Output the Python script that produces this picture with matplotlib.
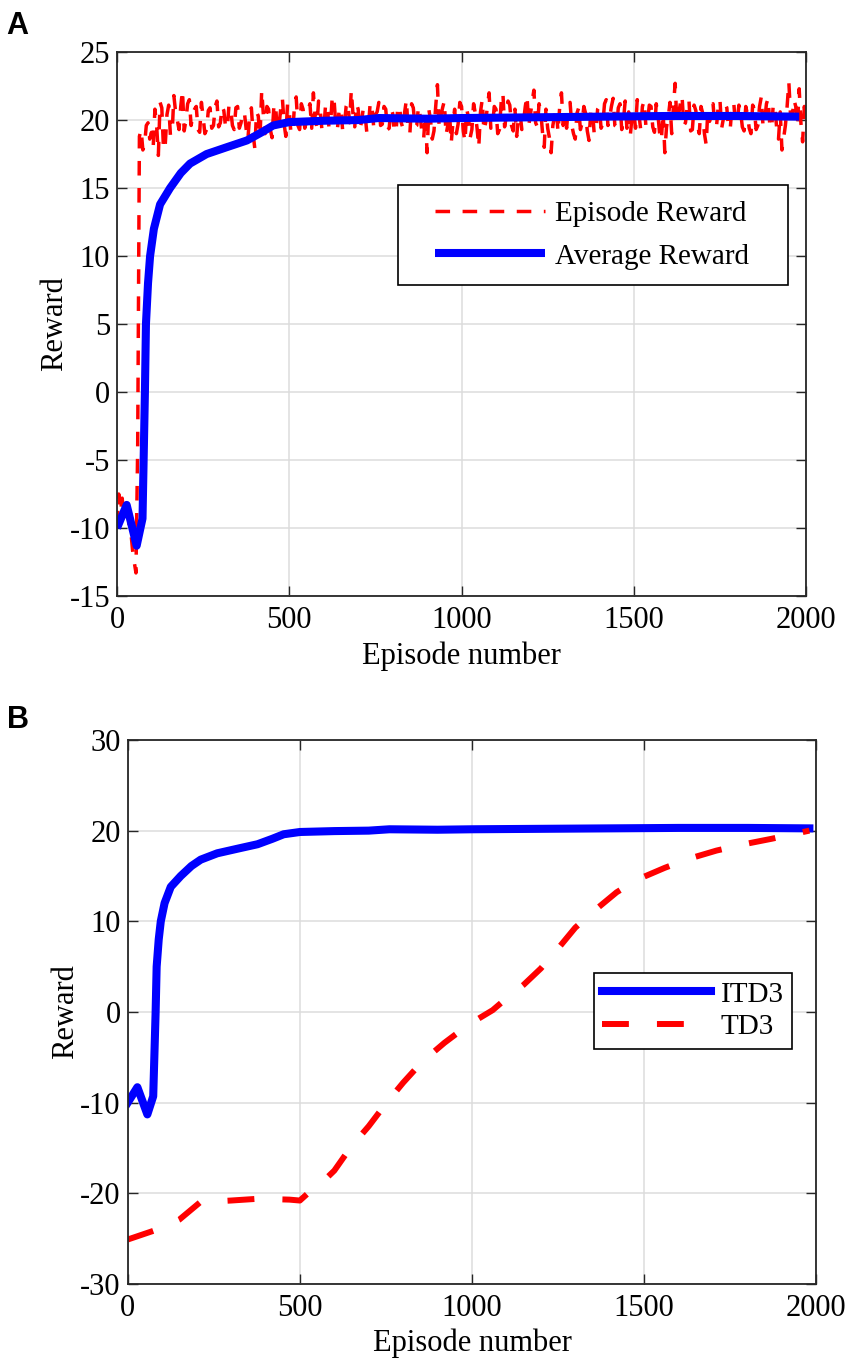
import numpy as np
from matplotlib import pyplot as plt
from matplotlib.patches import Rectangle

plt.rcParams['font.family'] = ['Liberation Serif', 'DejaVu Serif']
plt.rcParams['font.size'] = 22
plt.rcParams['axes.unicode_minus'] = False

# ---------------- panel A data ----------------
# episode reward, first 100 episodes (read every 5 episodes)
ep_early = [0, 5, 10, 15, 20, 25, 30, 35, 40, 45, 50, 55, 60, 65, 70, 75, 80, 85, 90, 95]
rew_early = [-9.8, -7.5, -8.8, -7.8, -9.2, -8.0, -8.4, -9.8, -10.2, -11.6,
             -12.5, -13.3, -4.0, 18.8, 19.3, 17.8, 18.2, 19.6, 19.8, 18.6]

# episode reward at 100, 110, ..., 2000
rew_even = [19.1, 20.8, 17.4, 20.9, 18.2, 21.1, 19.0, 20.6, 19.3, 22.2,
            20.0, 21.5, 20.3, 21.0, 19.1, 20.2, 19.3, 20.9, 19.6, 21.4,
            19.8, 20.7, 19.4, 20.8, 19.3, 21.0, 19.8, 20.5, 18.6, 20.9,
            17.9, 20.3, 22.2, 19.0, 20.8, 18.7, 21.2, 19.5, 21.6, 18.8,
            20.6, 19.1, 21.7, 19.3, 20.8, 19.9, 21.2, 22.0, 19.5, 20.7,
            19.3, 21.2, 19.8, 21.5, 19.4, 20.9, 19.6, 21.3, 22.2, 19.5,
            20.8, 19.9, 20.4, 19.6, 21.0, 20.4, 21.3, 19.7, 20.8, 19.4,
            20.5, 19.2, 21.0, 19.4, 21.5, 19.0, 20.9, 19.6, 20.3, 18.6,
            17.6, 20.0, 19.2, 22.6, 20.3, 21.4, 19.6, 18.3, 20.8, 19.7,
            21.0, 18.4, 20.2, 19.3, 20.5, 18.0, 21.5, 19.8, 22.0, 19.6,
            20.8, 19.3, 22.0, 20.3, 21.1, 19.2, 18.8, 20.5, 19.9, 21.8,
            20.4, 22.2, 19.5, 20.6, 18.0, 19.4, 17.6, 20.3, 19.1, 22.0,
            20.2, 21.0, 19.6, 18.6, 20.9, 19.8, 20.5, 18.5, 20.8, 19.2,
            21.0, 19.7, 21.5, 20.2, 21.6, 19.5, 21.2, 20.0, 19.4, 18.9,
            20.6, 21.5, 19.3, 21.4, 19.9, 21.0, 19.1, 20.4, 18.5, 17.6,
            20.2, 19.0, 22.7, 20.4, 21.8, 19.8, 21.5, 19.3, 20.7, 19.0,
            20.5, 18.2, 19.9, 21.2, 19.5, 21.5, 20.1, 20.9, 19.4, 21.3,
            19.8, 20.6, 19.2, 20.4, 19.0, 20.8, 19.6, 21.7, 20.0, 21.6,
            19.4, 20.9, 18.6, 17.8, 19.6, 22.8, 20.3, 21.0, 22.3, 18.4,
            20.0]
# episode reward at 105, 115, ..., 1995
rew_odd = [18.0, 19.6, 21.3, 17.8, 20.4, 18.9, 21.8, 20.0, 21.0, 19.2,
           21.2, 19.6, 20.8, 19.3, 21.3, 19.0, 20.7, 19.4, 21.0, 19.5,
           21.0, 19.5, 21.1, 19.6, 20.9, 19.4, 20.6, 19.3, 20.4, 19.0,
           20.6, 18.7, 20.3, 21.0, 19.3, 20.9, 19.2, 20.8, 19.7, 21.2,
           19.0, 21.0, 19.6, 21.2, 19.4, 20.8, 19.4, 20.2, 21.4, 19.2,
           21.0, 19.5, 21.8, 19.6, 20.8, 19.2, 21.0, 19.8, 20.4, 21.2,
           19.3, 20.9, 19.1, 21.3, 19.5, 20.6, 19.6, 21.0, 19.3, 20.9,
           19.1, 21.0, 19.8, 20.6, 19.2, 21.2, 19.5, 21.0, 19.1, 20.5,
           20.8, 18.6, 21.0, 19.5, 20.9, 18.9, 20.6, 19.8, 19.0, 21.3,
           19.2, 20.8, 18.7, 21.2, 19.4, 20.6, 19.2, 21.0, 19.4, 21.0,
           19.0, 21.3, 19.5, 21.4, 19.6, 20.8, 20.2, 19.3, 21.0, 19.6,
           21.4, 19.8, 21.2, 19.1, 20.8, 18.7, 19.6, 20.9, 21.0, 19.6,
           19.4, 21.3, 19.0, 20.5, 19.3, 21.0, 19.2, 20.6, 19.0, 20.8,
           19.4, 21.2, 19.6, 21.0, 19.6, 20.9, 19.3, 21.4, 20.6, 20.3,
           19.4, 20.4, 21.0, 19.6, 21.1, 19.5, 21.2, 19.0, 20.7, 19.5,
           21.3, 21.0, 19.8, 21.2, 19.6, 21.0, 19.2, 21.1, 19.6, 21.0,
           19.0, 20.8, 21.0, 19.6, 21.0, 19.4, 21.2, 19.3, 21.0, 19.7,
           21.1, 19.5, 21.0, 19.4, 21.1, 19.3, 21.0, 19.6, 21.2, 19.5,
           21.2, 19.3, 20.6, 18.7, 21.0, 20.3, 21.5, 19.6, 19.8, 21.0]

ep_even = list(range(100, 2001, 10))
ep_odd = list(range(105, 2000, 10))

late = sorted(zip(ep_even + ep_odd, rew_even + rew_odd))
episodes = ep_early + [e for e, _ in late]
episode_reward = rew_early + [r for _, r in late]

# average reward (also the ITD3 curve of panel B)
avg_ep = [0, 28, 57, 74, 78, 81, 84, 90, 96, 107, 125, 154, 185, 212, 260, 318,
          377, 420, 453, 500, 600, 700, 760, 900, 1000, 1200, 1400, 1600, 1800, 1980]
avg_reward = [-10.0, -8.3, -11.3, -9.3, -4.0, 0.0, 5.0, 8.0, 10.0, 12.0, 13.8, 15.0,
              16.1, 16.8, 17.5, 18.0, 18.5, 19.1, 19.6, 19.85, 19.95, 20.0, 20.15,
              20.1, 20.15, 20.2, 20.25, 20.3, 20.3, 20.25]

# ---------------- panel B data ----------------
td3_ep = [0, 70, 100, 150, 210, 250, 300, 380, 470, 500, 535, 570, 600, 650, 700,
          750, 800, 855, 920, 990, 1060, 1100, 1150, 1200, 1250, 1300, 1350, 1420,
          1480, 1560, 1630, 1710, 1790, 1870, 1980]
td3_reward = [-25.1, -24.2, -23.8, -22.9, -21.0, -20.9, -20.8, -20.6, -20.7, -20.8,
              -19.6, -18.6, -17.5, -14.8, -12.6, -10.1, -7.8, -5.5, -3.4, -1.4, 0.2,
              1.5, 3.0, 4.8, 7.0, 9.3, 11.0, 13.2, 14.6, 15.9, 16.9, 17.8, 18.5,
              19.1, 20.0]

red = (1, 0, 0)
blue = (0, 0, 1)
spine_c = '#262626'

fig = plt.figure(figsize=(8.51, 13.63), dpi=100)
axA = fig.add_axes([0.1375, 0.5627, 0.8097, 0.3991])
axB = fig.add_axes([0.1501, 0.0580, 0.8091, 0.3991])


def style_axis(ax, ylabelpad):
    ax.set_xlim(0, 2000)
    ax.set_xticks([0, 500, 1000, 1500, 2000])
    ax.grid(True, color='#dcdcdc', lw=1.1)
    ax.set_axisbelow(True)
    ax.tick_params(direction='in', length=7, width=1, top=True, right=True,
                   labelsize=22, colors=spine_c, labelcolor='black', pad=5)
    ax.tick_params(axis='x', pad=7)
    for s in ax.spines.values():
        s.set_color(spine_c)
        s.set_linewidth(1.3)
    ax.set_xlabel('Episode number', fontsize=22, labelpad=4.5)
    ax.set_ylabel('Reward', fontsize=22, labelpad=ylabelpad)


# panel A
axA.plot(episodes, episode_reward, color=red, lw=2.5, linestyle=(0, (4.2, 3.6)),
         label='Episode Reward')
axA.plot(avg_ep, avg_reward, color=blue, lw=5.8, label='Average Reward',
         solid_joinstyle='round', solid_capstyle='butt')
axA.set_ylim(-15, 25)
axA.set_yticks(np.arange(-15, 26, 5))
style_axis(axA, 0.5)
legA = axA.legend(loc='center left', bbox_to_anchor=(0.4615, 0.6636), fontsize=21,
                  handlelength=3.77, handletextpad=0.34, borderpad=0,
                  labelspacing=0.56, frameon=False, borderaxespad=0)
axA.add_patch(Rectangle((0.4078, 0.5717), 0.9739 - 0.4078, 0.7555 - 0.5717,
                        transform=axA.transAxes, facecolor='white',
                        edgecolor='black', lw=1.2, zorder=4.5))

# panel B
axB.plot(avg_ep, avg_reward, color=blue, lw=5.8, label='ITD3',
         solid_joinstyle='round')
axB.plot(td3_ep, td3_reward, color=red, lw=4.3, linestyle=(0, (4.5, 4.7)),
         label='TD3')
axB.set_ylim(-30, 30)
axB.set_yticks(np.arange(-30, 31, 10))
style_axis(axB, 0.2)
legB = axB.legend(loc='upper right', bbox_to_anchor=(0.9647, 0.5717), fontsize=21,
                  handlelength=3.73, handletextpad=0.34, borderpad=0.28,
                  labelspacing=0.22, fancybox=False, framealpha=1,
                  edgecolor='black', borderaxespad=0)
legB.get_frame().set_linewidth(1.2)

fig.text(0.007, 0.992, 'A', fontsize=22, fontweight='bold',
         family=['Liberation Sans', 'DejaVu Sans'], va='top', ha='left')
fig.text(0.008, 0.483, 'B', fontsize=22, fontweight='bold',
         family=['Liberation Sans', 'DejaVu Sans'], va='top', ha='left')

fig.savefig('out.png', dpi=100)
